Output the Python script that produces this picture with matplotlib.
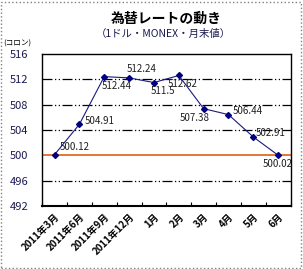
import matplotlib.pyplot as plt
from matplotlib.patches import Rectangle
import numpy as np

plt.rcParams['font.family'] = ['Noto Sans CJK JP', 'DejaVu Sans']

categories = ['2011年3月', '2011年6月', '2011年9月', '2011年12月', '1月',
              '2月', '3月', '4月', '5月', '6月']
rates = [500.12, 504.91, 512.44, 512.24, 511.5, 512.62, 507.38, 506.44, 502.91, 500.02]
# label offsets in points (dx, dy)
offsets = [(4, 2), (4, -1), (-2, -10), (-2, 3), (-2, -10), (-8, -10),
           (-17, -10), (3, -1), (2, -1), (-11, -10)]
y_ticks = [492, 496, 500, 504, 508, 512, 516]

if __name__ == '__main__':
    fig = plt.figure(figsize=(3.03, 2.69), dpi=100)
    ax = fig.add_axes([0.139, 0.234, 0.82, 0.565])
    xs = np.arange(len(categories))

    for y in [496, 504, 508, 512]:
        ax.axhline(y, color='black', linewidth=0.9, linestyle=(0, (8, 2, 1, 2, 1, 2)), zorder=1)
    ax.axhline(500, color='#e06010', linewidth=1.2, zorder=2)

    ax.plot(xs, rates, color='#1a1a80', linewidth=0.8, marker='D', markersize=3,
            markerfacecolor='#000080', markeredgecolor='#000080', zorder=3)
    for x, v, (dx, dy) in zip(xs, rates, offsets):
        ax.annotate(f'{v:g}', (x, v), xytext=(dx, dy), textcoords='offset points',
                    fontsize=7, color='#202020', ha='left', va='bottom')

    ax.set_xlim(-0.5, len(categories) - 0.5)
    ax.set_ylim(492, 516)
    ax.set_yticks(y_ticks)
    ax.set_yticklabels([str(t) for t in y_ticks], fontsize=8, color='#1a1a50')
    ax.tick_params(axis='y', length=0, pad=10)
    ax.set_xticks(np.arange(len(categories) + 1) - 0.5, minor=False)
    ax.set_xticklabels([])
    ax.set_xticks(xs, minor=True)
    ax.set_xticklabels(categories, minor=True, rotation=45, ha='right',
                       rotation_mode='anchor', fontsize=7, fontweight='bold')
    ax.tick_params(axis='x', which='major', length=3, direction='in')
    ax.tick_params(axis='x', which='minor', length=0, pad=4)
    for s in ax.spines.values():
        s.set_linewidth(1)
    ax.spines['bottom'].set_linewidth(1.5)

    fig.text(0.55, 0.93, '為替レートの動き', ha='center', va='center',
             fontsize=10, fontweight='bold')
    fig.text(0.54, 0.875, '（1ドル・MONEX・月末値）', ha='center', va='center',
             fontsize=7.5, color='#1a1a50')
    fig.text(0.01, 0.838, '(コロン)', ha='left', va='center', fontsize=5.5)

    fig.add_artist(Rectangle((0.004, 0.004), 0.99, 0.99, transform=fig.transFigure,
                             fill=False, edgecolor='#808080', linewidth=1, linestyle=':'))

    plt.savefig('out.png', dpi=100)
